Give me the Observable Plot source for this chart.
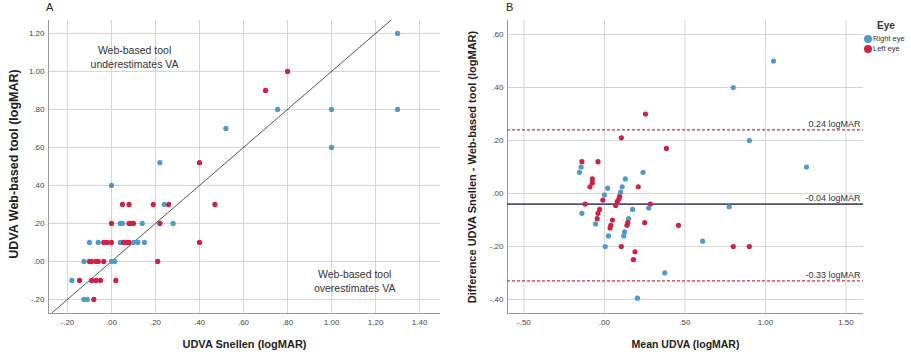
<!DOCTYPE html>
<html><head><meta charset="utf-8">
<script src="https://cdn.jsdelivr.net/npm/d3@7"></script>
<script src="https://cdn.jsdelivr.net/npm/@observablehq/plot@0.6"></script>
<style>
body{margin:0;background:#fff;font-family:"Liberation Sans",Arial,sans-serif;}
#wrap{position:relative;width:911px;height:357px;overflow:hidden}
#a{position:absolute;left:0;top:0}
#b{position:absolute;left:455px;top:0}
.lbl{position:absolute;font-size:11px;color:#222}
.ytitle{position:absolute;white-space:nowrap;font-weight:bold;color:#222;transform:translate(-50%,-50%) rotate(-90deg);line-height:1}
#legend{position:absolute;left:864px;top:21px;font-size:7.5px;color:#333;line-height:10px}
#legend .t{font-weight:bold;font-size:10px;margin-left:13px;margin-bottom:3px}
#legend .it{display:flex;align-items:center}
#legend .sw{display:inline-block;width:8px;height:8px;border-radius:50%;margin-right:1px}
</style></head><body>
<div id="wrap"><div id="a"></div><div id="b"></div>
<div class="lbl" style="left:46px;top:1px">A</div>
<div class="lbl" style="left:506px;top:1px">B</div>
<div class="ytitle" style="left:14px;top:164px;font-size:12.5px">UDVA Web-based tool (logMAR)</div>
<div class="ytitle" style="left:472px;top:167px;font-size:11px">Difference UDVA Snellen - Web-based tool (logMAR)</div>
<div id="legend"></div></div>
<script>
// ---------- data ----------
const eyeNames = ["Right eye", "Left eye"];
const eyeColors = ["#4e9ad0", "#cf2146"];

// Panel A: Snellen vs Web-based tool (logMAR)
const snellenA = [0.00,
  0.05,0.08,0.19,0.24,0.26,0.47,
  0.00,0.04,0.05,0.08,0.09,0.10,0.14,0.22,0.28,
  -0.10,-0.06,-0.035,-0.02,0.00,0.04,0.055,0.07,0.08,0.10,0.12,0.15,0.40,
  -0.125,-0.10,-0.09,-0.07,-0.06,-0.035,0.00,0.015,0.21,
  -0.18,-0.145,-0.09,-0.07,-0.05,0.02,
  -0.125,-0.11,-0.08,
  0.22,0.40,0.52,0.70,0.80,0.755,1.00,1.30,1.30,1.00];
const webA = [0.40,
  0.30,0.30,0.30,0.30,0.30,0.30,
  0.20,0.20,0.20,0.20,0.20,0.20,0.20,0.20,0.20,
  0.10,0.10,0.10,0.10,0.10,0.10,0.10,0.10,0.10,0.10,0.10,0.10,0.10,
  0.00,0.00,0.00,0.00,0.00,0.00,0.00,0.00,0.00,
  -0.10,-0.10,-0.10,-0.10,-0.10,-0.10,
  -0.20,-0.20,-0.20,
  0.52,0.52,0.70,0.90,1.00,0.80,0.80,0.80,1.20,0.60];
const eyeA = ["R",
  "L","L","L","R","L","L",
  "L","R","R","L","L","L","R","L","R",
  "R","R","L","L","L","R","L","L","L","R","R","R","L",
  "R","L","L","L","L","L","R","R","L",
  "R","L","L","L","L","L",
  "R","R","L",
  "R","L","R","L","L","R","R","R","R","R"];
const identityLine = [-0.27, 1.27];
const xTicksA = [-0.2,0,0.2,0.4,0.6,0.8,1.0,1.2,1.4];
const yTicksA = [-0.2,0,0.2,0.4,0.6,0.8,1.0,1.2];

// Panel B: Bland-Altman
const meanB = [0.255,0.105,0.385,-0.14,-0.145,-0.155,-0.04,-0.075,-0.075,-0.09,
  -0.12,-0.14,-0.01,0.00,0.02,-0.03,-0.04,-0.045,-0.055,0.025,
  0.005,0.05,0.04,0.035,0.07,0.08,0.09,0.095,0.10,0.11,
  0.13,0.175,0.105,0.15,0.145,0.14,0.125,0.12,0.21,0.24,
  0.285,0.275,0.25,0.46,0.19,0.18,0.205,0.375,0.90,1.255,
  0.775,0.61,0.80,0.90,1.05,0.80];
const diffB = [0.30,0.21,0.17,0.12,0.10,0.08,0.12,0.055,0.04,0.025,
  -0.04,-0.075,-0.025,-0.005,0.02,-0.06,-0.075,-0.095,-0.115,-0.16,
  -0.20,-0.10,-0.12,-0.13,-0.045,-0.03,-0.02,-0.01,0.005,0.025,
  0.055,-0.06,-0.20,-0.095,-0.11,-0.12,-0.145,-0.16,0.025,0.08,
  -0.04,-0.055,-0.11,-0.12,-0.22,-0.25,-0.395,-0.30,0.20,0.10,
  -0.05,-0.18,-0.20,-0.20,0.50,0.40];
const eyeB = ["L","L","L","L","R","R","L","L","L","L",
  "L","R","L","R","R","L","L","L","R","R",
  "R","L","L","L","L","L","L","L","R","R",
  "R","R","L","R","L","L","R","R","L","R",
  "L","R","L","L","L","L","R","R","R","R",
  "R","R","L","L","R","R"];
const refValues = [0.24, -0.04, -0.33];
const refLabels = ["0.24 logMAR", "-0.04 logMAR", "-0.33 logMAR"];
const xTicksB = [-0.5,0,0.5,1.0,1.5];
const yTicksB = [-0.4,-0.2,0,0.2,0.4,0.6];

// ---------- helpers ----------
const fmt = d => (d < 0 ? "-" : "") + Math.abs(d).toFixed(2).replace(/^0/, "");
const eyeLabel = c => c === "R" ? "Right eye" : "Left eye";
const color = {domain: eyeNames, range: eyeColors};
const font = "'Liberation Sans', Arial, sans-serif";

const dataA = snellenA.map((s, i) => ({x: s, y: webA[i], eye: eyeLabel(eyeA[i])}));
const dataB = meanB.map((m, i) => ({x: m, y: diffB[i], eye: eyeLabel(eyeB[i])}));
const refs = refValues.map((v, i) => ({v, label: refLabels[i], mean: i === 1}));

const xDomA = [-0.286, 1.495], yDomA = [-0.274, 1.268];
const xDomB = [-0.602, 1.609], yDomB = [-0.453, 0.653];

const plotA = Plot.plot({
  width: 455, height: 357,
  marginLeft: 48, marginRight: 15, marginTop: 20, marginBottom: 44,
  x: {domain: xDomA}, y: {domain: yDomA}, color,
  style: {fontFamily: font, fontSize: "8px", background: "white"},
  marks: [
    Plot.gridX(xTicksA, {stroke: "#d4d4d4", strokeOpacity: 1}),
    Plot.gridY(yTicksA, {stroke: "#d4d4d4", strokeOpacity: 1}),
    Plot.ruleX([xDomA[0]], {stroke: "#999"}),
    Plot.ruleY([yDomA[0]], {stroke: "#999"}),
    Plot.axisX(xTicksA, {tickFormat: fmt, tickSize: 0, tickPadding: 6, label: null, fill: "#444"}),
    Plot.axisY(yTicksA, {tickFormat: fmt, tickSize: 0, tickPadding: 4, label: null, fill: "#444"}),
    Plot.line(identityLine, {x: d => d, y: d => d, stroke: "#555", strokeWidth: 1}),
    Plot.dot(dataA, {x: "x", y: "y", fill: "eye", r: 2.6}),
    Plot.text(["Web-based tool\nunderestimates VA"], {x: 0.105, y: 1.08, fontSize: 10.5, fill: "#333", lineHeight: 1.4}),
    Plot.text(["Web-based tool\noverestimates VA"], {x: 1.105, y: -0.10, fontSize: 10.5, fill: "#333", lineHeight: 1.4}),
    Plot.text(["UDVA Snellen (logMAR)"], {frameAnchor: "bottom", dy: 31, lineAnchor: "middle", fontWeight: "bold", fontSize: 11, fill: "#222"})
  ]
});
document.getElementById("a").appendChild(plotA);

const plotB = Plot.plot({
  width: 456, height: 357,
  marginLeft: 52, marginRight: 48, marginTop: 20, marginBottom: 44,
  x: {domain: xDomB}, y: {domain: yDomB}, color,
  style: {fontFamily: font, fontSize: "8px", background: "white"},
  marks: [
    Plot.gridX(xTicksB, {stroke: "#d4d4d4", strokeOpacity: 1}),
    Plot.gridY(yTicksB, {stroke: "#d4d4d4", strokeOpacity: 1}),
    Plot.ruleX([xDomB[0]], {stroke: "#999"}),
    Plot.ruleY([yDomB[0]], {stroke: "#999"}),
    Plot.axisX(xTicksB, {tickFormat: fmt, tickSize: 0, tickPadding: 6, label: null, fill: "#444"}),
    Plot.axisY(yTicksB, {tickFormat: fmt, tickSize: 0, tickPadding: 4, label: null, fill: "#444"}),
    Plot.ruleY(refs.filter(d => !d.mean), {y: "v", stroke: "#c8364a", strokeWidth: 1.1, strokeDasharray: "3,2"}),
    Plot.ruleY(refs.filter(d => d.mean), {y: "v", stroke: "#4f4f72", strokeWidth: 1.8}),
    Plot.dot(dataB, {x: "x", y: "y", fill: "eye", r: 2.6}),
    Plot.text(refs, {x: xDomB[1], y: "v", text: "label", textAnchor: "end", lineAnchor: "bottom", dx: -3, dy: -3, fontSize: 9, fill: "#333"}),
    Plot.text(["Mean UDVA (logMAR)"], {frameAnchor: "bottom", dy: 31, lineAnchor: "middle", fontWeight: "bold", fontSize: 10.5, fill: "#222"})
  ]
});
document.getElementById("b").appendChild(plotB);

// legend
const lg = document.getElementById("legend");
lg.innerHTML = '<div class="t">Eye</div>' + eyeNames.map((n, i) =>
  `<div class="it"><span class="sw" style="background:${eyeColors[i]}"></span>${n}</div>`).join("");
</script>
</body></html>
